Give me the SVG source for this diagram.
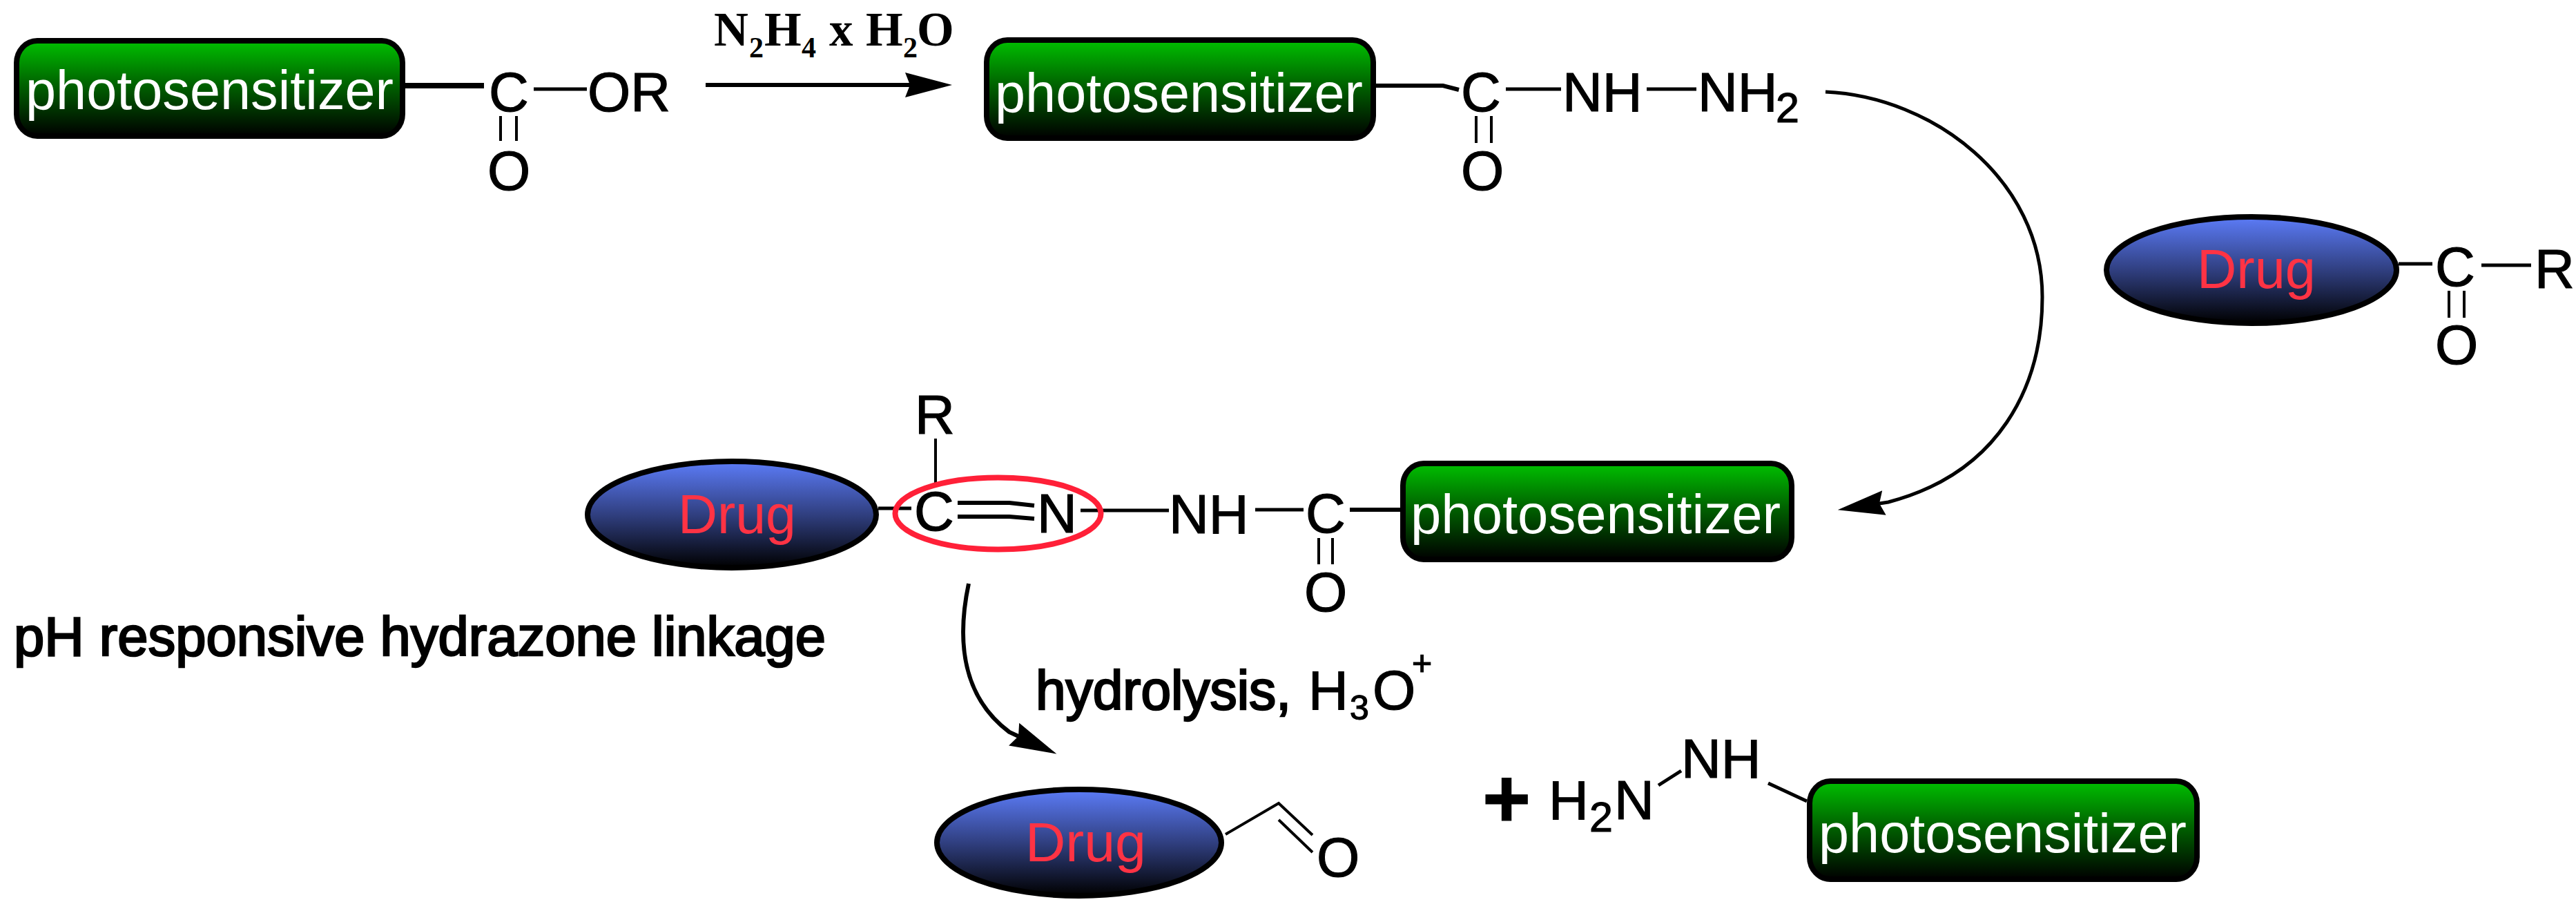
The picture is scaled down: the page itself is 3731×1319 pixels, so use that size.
<svg xmlns="http://www.w3.org/2000/svg" width="3731" height="1319" viewBox="0 0 3731 1319">
<style>
text{font-family:"Liberation Sans",Arial,sans-serif;font-size:80px;fill:#000;stroke:#000;stroke-width:1.2px}
.ps{fill:#fff;stroke:none}
.dr{fill:#ff3344;stroke:none}
.sub{font-size:61px}
.heavy{stroke-width:2.600px}
.rg{font-family:"Liberation Serif","Times New Roman",serif;font-size:69px;font-weight:bold;stroke:none}
.rgs{font-size:42px}
.box{fill:url(#g);stroke:#000;stroke-width:8}
.ell{fill:url(#b);stroke:#000;stroke-width:8}
.bond{fill:none;stroke:#000;stroke-width:5}
.thin{stroke-width:4}
.thick{stroke-width:8}
.arr{fill:none;stroke:#000;stroke-width:5;marker-end:url(#head)}
</style>
<defs>
<linearGradient id="g" x1="0" y1="0" x2="0" y2="1"><stop offset="0" stop-color="#00c000"/><stop offset="0.450" stop-color="#006400"/><stop offset="1" stop-color="#000"/></linearGradient>
<linearGradient id="b" x1="0" y1="0" x2="0" y2="1"><stop offset="0" stop-color="#5c7cf8"/><stop offset="0.500" stop-color="#303f80"/><stop offset="1" stop-color="#000"/></linearGradient>
<marker id="head" markerUnits="userSpaceOnUse" markerWidth="70" markerHeight="40" refX="7" refY="20" orient="auto" viewBox="0 0 70 40"><path d="M0 2 L68 20 L0 38 L7 20Z" fill="#000"/></marker>
</defs>
<rect width="3731" height="1319" fill="#fff"/>
<g id="connectors">
<path class="arr" style="stroke-width:6" d="M1022 123H1318"/>
<path class="arr" style="stroke-width:5" d="M2644 133C2800 140 2958 260 2958 430C2958 560 2895 685 2735 727L2722 729"/>
<path class="arr" style="stroke-width:6" d="M1403 845C1385 930 1395 1010 1462 1060L1475 1066"/>
<path class="bond thick" d="M587 124H701"/>
<path class="bond" d="M773 129H850"/>
<path class="bond thin" d="M725 168V204M748 168V204"/>
<path class="bond" style="stroke-width:6" d="M1993 124H2090L2113 130"/>
<path class="bond" d="M2181 129H2261M2385 129H2457"/>
<path class="bond thin" d="M2138 168V207M2160 168V207"/>
<path class="bond" d="M3474 382H3523M3594 384H3666"/>
<path class="bond thin" d="M3547 421V460M3569 421V460"/>
<path class="bond thin" d="M1355 635V700"/>
<path class="bond" d="M1272 736H1320M1565 739H1693M1818 738H1888"/>
<path class="bond" style="stroke-width:6" d="M1387 728H1462L1498 732M1387 748H1462L1498 751M1955 738H2028"/>
<path class="bond thin" d="M1910 779V817M1930 779V817"/>
<path class="bond thin" d="M1775 1208L1852 1163L1901 1209M1852 1187L1901 1234"/>
<path class="bond" d="M2402 1137L2435 1116M2561 1134L2617 1160"/>
</g>
<g id="ester">
<rect class="box" x="24" y="59" width="559" height="138" rx="30" ry="32"/>
<text class="ps" x="37" y="158" textLength="533" lengthAdjust="spacingAndGlyphs">photosensitizer</text>
<text x="708" y="161">C</text><text x="851" y="161">OR</text><text x="706" y="275">O</text>
</g>
<g id="reagent">
<text class="rg" y="66"><tspan x="1034">N</tspan><tspan class="rgs" x="1085" y="83">2</tspan><tspan x="1107" y="66">H</tspan><tspan class="rgs" x="1161" y="83">4</tspan><tspan x="1201" y="66">x</tspan><tspan x="1254" y="66">H</tspan><tspan class="rgs" x="1308" y="83">2</tspan><tspan x="1328" y="66">O</tspan></text>
</g>
<g id="hydrazide">
<rect class="box" x="1429" y="58" width="560" height="142" rx="30" ry="32"/>
<text class="ps" x="1441" y="162" textLength="533" lengthAdjust="spacingAndGlyphs">photosensitizer</text>
<text x="2116" y="161">C</text><text x="2263" y="161">NH</text><text x="2459" y="161">NH</text><text class="sub" x="2572" y="177">2</text><text x="2116" y="275">O</text>
</g>
<g id="drug-ketone">
<ellipse class="ell" cx="3261" cy="391" rx="210" ry="77"/>
<text class="dr" x="3182" y="417" textLength="172" lengthAdjust="spacingAndGlyphs">Drug</text>
<text x="3527" y="414">C</text><text x="3671" y="417">R</text><text x="3527" y="527">O</text>
</g>
<g id="conjugate">
<ellipse class="ell" cx="1060" cy="745" rx="209" ry="77"/>
<text class="dr" x="982" y="772" textLength="171" lengthAdjust="spacingAndGlyphs">Drug</text>
<text x="1325" y="628">R</text><text x="1324" y="768">C</text><text x="1502" y="771">N</text><text x="1693" y="772">NH</text><text x="1891" y="771">C</text><text x="1889" y="885">O</text>
<ellipse cx="1445.500" cy="743.500" rx="149" ry="52" fill="none" stroke="#ff2038" stroke-width="8"/>
<rect class="box" x="2032" y="671" width="563" height="139" rx="30" ry="32"/>
<text class="ps" x="2043" y="772" textLength="536" lengthAdjust="spacingAndGlyphs">photosensitizer</text>
</g>
<g id="linkage-label">
<text class="heavy" x="20" y="949" textLength="1176" lengthAdjust="spacingAndGlyphs">pH responsive hydrazone linkage</text>
</g>
<g id="hydrolysis-label">
<text class="heavy" x="1500" y="1027" textLength="370" lengthAdjust="spacingAndGlyphs">hydrolysis,</text>
<text y="1027"><tspan x="1895">H</tspan><tspan style="font-size:50px" x="1955" y="1042">3</tspan><tspan x="1988" y="1027">O</tspan><tspan style="font-size:50px" x="2045" y="977">+</tspan></text>
</g>
<g id="drug-aldehyde">
<ellipse class="ell" cx="1563" cy="1220" rx="206" ry="77"/>
<text class="dr" x="1485" y="1247" textLength="175" lengthAdjust="spacingAndGlyphs">Drug</text>
<text x="1907" y="1269">O</text>
</g>
<g id="plus"><text x="2147" y="1198" style="font-size:120px;font-weight:bold">+</text></g>
<g id="hydrazine-product">
<text x="2243" y="1186">H</text><text class="sub" x="2302" y="1204">2</text><text x="2338" y="1186">N</text><text x="2435" y="1126">NH</text>
<rect class="box" x="2621" y="1131" width="561" height="142" rx="30" ry="32"/>
<text class="ps" x="2634" y="1234" textLength="533" lengthAdjust="spacingAndGlyphs">photosensitizer</text>
</g>
</svg>
